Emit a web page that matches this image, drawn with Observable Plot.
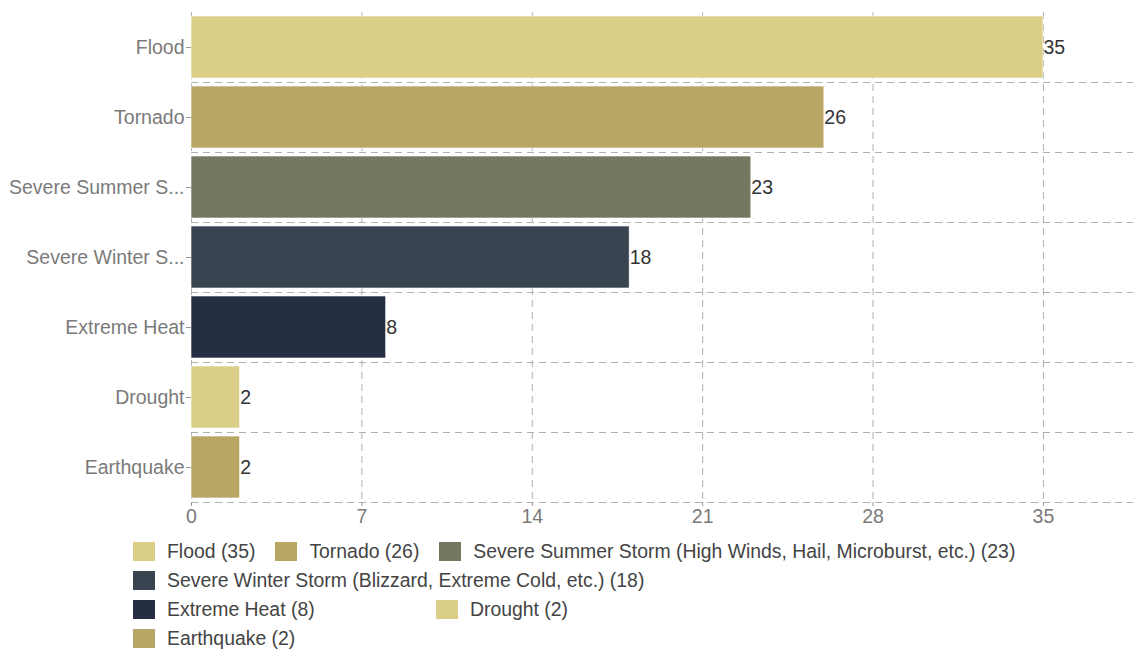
<!DOCTYPE html>
<html>
<head>
<meta charset="utf-8">
<script src="https://cdn.jsdelivr.net/npm/d3@7"></script>
<script src="https://cdn.jsdelivr.net/npm/@observablehq/plot@0.6"></script>
<style>
  html, body { margin: 0; padding: 0; background: #fff; }
  body { width: 1133px; height: 650px; overflow: hidden; font-family: "Liberation Sans", Arial, sans-serif; position: relative; }
  #chart { position: absolute; left: 0; top: 0; }
  #legend { position: absolute; left: 133px; top: 537px; font-size: 19.4px; color: #444; }
  .row { display: flex; align-items: center; height: 29px; }
  .item { display: flex; align-items: center; margin-right: 20px; white-space: nowrap; }
  .sw { width: 22px; height: 19px; margin-right: 12px; flex: none; }
</style>
</head>
<body>
<div id="chart"></div>
<div id="legend"></div>
<script>
const categories = [
  "Flood",
  "Tornado",
  "Severe Summer Storm (High Winds, Hail, Microburst, etc.)",
  "Severe Winter Storm (Blizzard, Extreme Cold, etc.)",
  "Extreme Heat",
  "Drought",
  "Earthquake"
];
const counts = [35, 26, 23, 18, 8, 2, 2];
const colors = ["#dbcf87", "#b8a664", "#737960", "#3a4350", "#243042", "#dbcf87", "#b8a664"];
const xTicks = [0, 7, 14, 21, 28, 35];

const data = categories.map((c, i) => ({category: c, count: counts[i], color: colors[i]}));
const shortName = s => s.length > 18 ? s.slice(0, 15) + "..." : s;

const plot = Plot.plot({
  width: 1133,
  height: 534,
  marginLeft: 191,
  marginRight: 0,
  marginTop: 12,
  marginBottom: 32,
  style: {fontFamily: "Liberation Sans, Arial, sans-serif", fontSize: "19.5px", color: "#7a7a7a", background: "#fff"},
  x: {domain: [0, 38.7], ticks: xTicks, label: null},
  y: {domain: categories, padding: 0, label: null},
  marks: [
    Plot.gridX(xTicks, {stroke: "#b0b0b0", strokeOpacity: 1, strokeDasharray: "7,5"}),
    Plot.ruleY(categories, {y: d => d, dy: 35, stroke: "#b0b0b0", strokeDasharray: "7,5"}),
    Plot.barX(data, {y: "category", x: "count", fill: "color", insetTop: 4, insetBottom: 4, stroke: "#fff", strokeWidth: 0.6}),
    Plot.text(data, {y: "category", x: "count", text: d => String(d.count), textAnchor: "start", dx: 0, fill: "#333", fontSize: 19.5}),
    Plot.axisX({ticks: xTicks, tickSize: 4, tickPadding: 3, stroke: "#999", fill: "#7a7a7a", fontSize: 19.5}),
    Plot.axisY({tickSize: 5, tickPadding: 2, stroke: "#999", fill: "#7a7a7a", fontSize: 19.5, tickFormat: shortName})
  ]
});
document.getElementById("chart").appendChild(plot);

// Legend rows (group indices per line to mirror the reference's wrapping)
const legendRows = [[0, 1, 2], [3], [4, 5], [6]];
const legend = document.getElementById("legend");
legendRows.forEach(row => {
  const r = document.createElement("div");
  r.className = "row";
  row.forEach((i, k) => {
    const it = document.createElement("div");
    it.className = "item";
    if (row.length === 2 && k === 0) { it.style.width = "303px"; it.style.marginRight = "0"; }
    const sw = document.createElement("div");
    sw.className = "sw";
    sw.style.background = colors[i];
    const t = document.createElement("span");
    t.textContent = `${categories[i]} (${counts[i]})`;
    it.appendChild(sw);
    it.appendChild(t);
    r.appendChild(it);
  });
  legend.appendChild(r);
});
</script>
</body>
</html>
